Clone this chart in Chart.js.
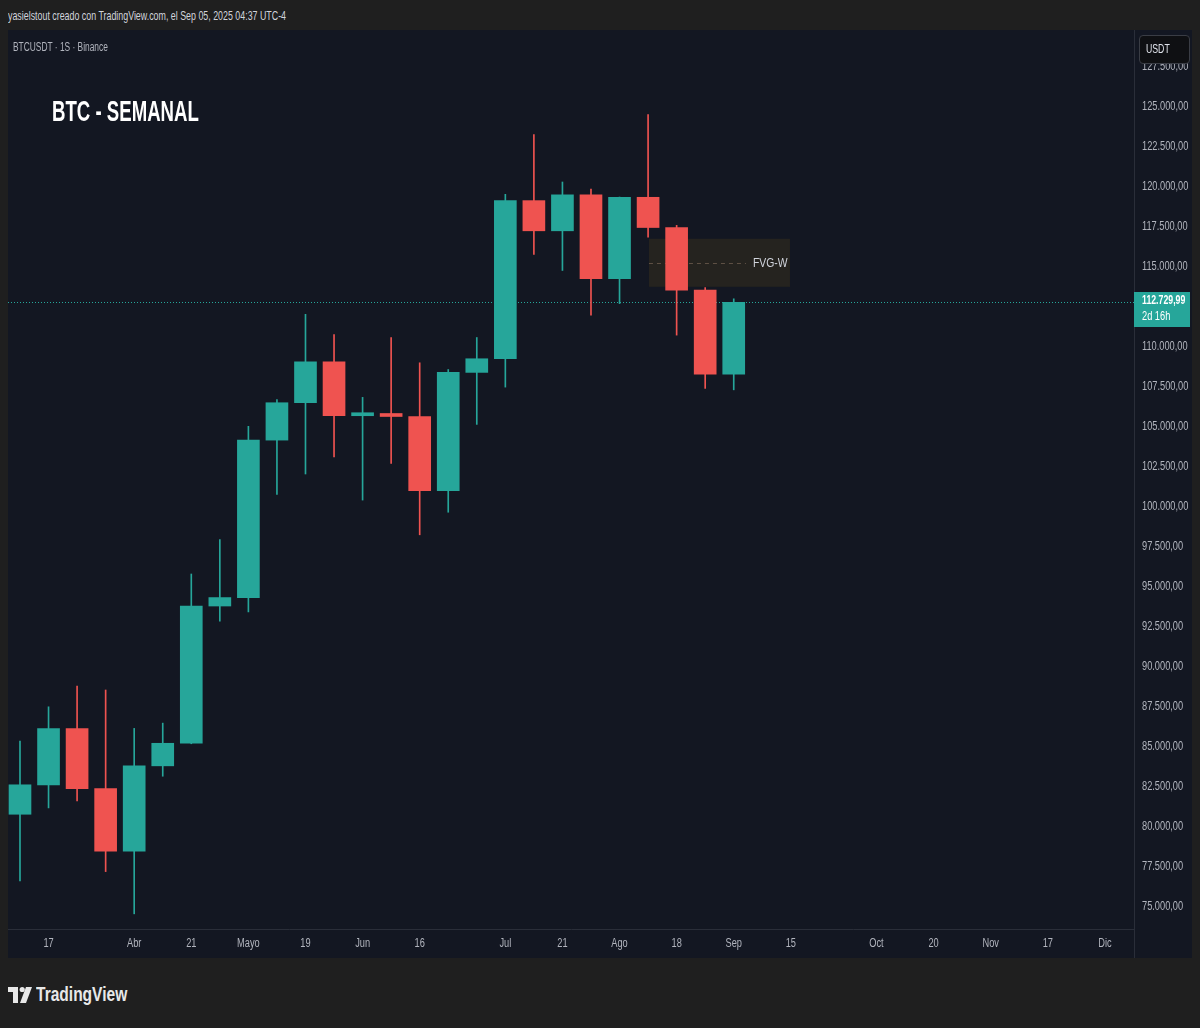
<!DOCTYPE html>
<html>
<head>
<meta charset="utf-8">
<script src="https://cdn.jsdelivr.net/npm/chart.js@4.4.1/dist/chart.umd.min.js"></script>
<style>
  html, body { margin:0; padding:0; }
  body { width:1200px; height:1028px; background:#1f1f1f; position:relative; overflow:hidden;
         font-family:'Liberation Sans Narrow','Liberation Sans',sans-serif; }
  #hdr { position:absolute; left:8px; top:8px; color:#d1d4dc; font-size:13px; white-space:nowrap; transform-origin:0 0; }
  #panel { position:absolute; left:8px; top:30px; width:1184px; height:928px; background:#131722; }
  #cv { position:absolute; left:0; top:0; }
  #sym { position:absolute; left:5px; top:10px; color:#b2b5be; font-size:12px; white-space:nowrap; transform-origin:0 0; }
  #title { position:absolute; left:44px; top:66px; color:#ffffff; font-size:29px; font-weight:bold; white-space:nowrap; transform-origin:0 0; line-height:30px; }
  #usdt { position:absolute; left:1131px; top:5px; width:49px; height:27px; background:#0f1013; border:1px solid #3a3d45; border-radius:4px;
          color:#e0e3eb; font-size:12px; line-height:27px; box-sizing:content-box; }
  #usdt span { position:absolute; left:6px; top:0; transform-origin:0 50%; }
  #logo { position:absolute; left:8px; top:984px; height:22px; }
  #logotxt { position:absolute; left:36px; top:982px; color:#e8e8e8; font-size:21px; font-weight:bold; white-space:nowrap; transform-origin:0 0; line-height:24px; }
</style>
</head>
<body>
<div id="hdr">yasielstout creado con TradingView.com, el Sep 05, 2025 04:37 UTC-4</div>
<div id="panel">
  <canvas id="cv" width="1184" height="928"></canvas>
  <div id="sym">BTCUSDT · 1S · Binance</div>
  <div id="title">BTC - SEMANAL</div>
  <div id="usdt"><span id="usdtTxt">USDT</span></div>
</div>
<svg id="logo" width="24" height="22" viewBox="0 0 24 22">
  <path d="M0 3 H10 V19 H5 V8 H0 Z" fill="#e8e8e8"/>
  <circle cx="14.2" cy="5.5" r="2.6" fill="#e8e8e8"/>
  <path d="M18 3 H24 L18 19 H12 Z" fill="#e8e8e8"/>
</svg>
<div id="logotxt">TradingView</div>
<script>
// ---- data (weekly BTCUSDT, Binance) ----
const weeks  = ['2025-03-10','2025-03-17','2025-03-24','2025-03-31','2025-04-07','2025-04-14','2025-04-21','2025-04-28',
                '2025-05-05','2025-05-12','2025-05-19','2025-05-26','2025-06-02','2025-06-09','2025-06-16','2025-06-23',
                '2025-06-30','2025-07-07','2025-07-14','2025-07-21','2025-07-28','2025-08-04','2025-08-11','2025-08-18',
                '2025-08-25','2025-09-01'];
const opens  = [80734, 82575, 86082, 82335, 78430, 83760, 85170, 93749, 94277, 104118, 106454, 109004, 105642,
                105734, 105594, 100963, 108350, 109203, 119086, 117200, 119448, 114208, 119294, 117405, 113491, 108246];
const highs  = [85300, 87450, 88750, 88500, 86100, 86430, 95750, 97900, 104980, 106650, 111980, 110720, 106790,
                110530, 108950, 108530, 110530, 119480, 123220, 120250, 119800, 119310, 124470, 117540, 113650, 112950];
const lows   = [76560, 81130, 81560, 77150, 74510, 83110, 85140, 92800, 93380, 100720, 102000, 103070, 100370,
                102660, 98200, 99610, 105100, 107430, 115730, 114720, 111920, 112650, 116800, 110680, 107350, 107260];
const closes = [82575, 86082, 82335, 78430, 83760, 85170, 93749, 94277, 104118, 106454, 109004, 105642, 105734,
                105594, 100963, 108350, 109203, 119086, 117200, 119448, 114208, 119294, 117405, 113491, 108246, 112730];
// time-axis ticks: bar index -> label
const xTickIndex = [1, 4, 6, 8, 10, 12, 14, 17, 19, 21, 23, 25, 27, 30, 32, 34, 36, 38];
const xTickText  = ['17','Abr','21','Mayo','19','Jun','16','Jul','21','Ago','18','Sep','15','Oct','20','Nov','17','Dic'];
// price-axis ticks
const yTickValues = [75000, 77500, 80000, 82500, 85000, 87500, 90000, 92500, 95000, 97500, 100000, 102500,
                     105000, 107500, 110000, 112500, 115000, 117500, 120000, 122500, 125000, 127500];
const xRange = [-0.42, 39.02];
const yRange = [73562.5, 129750];
// FVG-W zone (bar index range, price range)
const fvgBars = [22.03, 26.97];
const fvgPrice = [113700, 116700];
const fvgMid = 115200;
const fvgLabel = 'FVG-W';
const lastPriceText = '112.729,99';
const countdownText = '2d 16h';

const UP = '#26a69a', DOWN = '#ef5350';
const FONT = "'Liberation Sans Narrow','Liberation Sans',sans-serif";
const NARROW = 0.74;

function fmt(v) {
  const s = v.toFixed(2).split('.');
  return s[0].replace(/\B(?=(\d{3})+(?!\d))/g, '.') + ',' + s[1];
}

const isUp = closes.map((c, i) => c >= opens[i]);
const bodyData = weeks.map((w, i) => ({ x: i, y: [opens[i], closes[i]] }));
const wickData = weeks.map((w, i) => ({ x: i, y: [lows[i], highs[i]] }));

function narrowText(ctx, txt, x, y, sx) {
  ctx.save();
  ctx.translate(x, y);
  ctx.scale(sx, 1);
  ctx.fillText(txt, 0, 0);
  ctx.restore();
}

const overlay = {
  id: 'overlay',
  beforeDatasetsDraw(chart) {
    const { ctx, chartArea: a, scales: { x, y } } = chart;
    ctx.save();
    // FVG box
    const x0 = x.getPixelForValue(fvgBars[0]), x1 = x.getPixelForValue(fvgBars[1]);
    const y0 = y.getPixelForValue(fvgPrice[1]), y1 = y.getPixelForValue(fvgPrice[0]);
    ctx.fillStyle = '#25231f';
    ctx.fillRect(x0, y0, x1 - x0, y1 - y0);
    const ym = Math.round(y.getPixelForValue(fvgMid)) + 0.5;
    ctx.strokeStyle = '#5e5044';
    ctx.lineWidth = 1;
    ctx.setLineDash([4, 4]);
    ctx.beginPath(); ctx.moveTo(x0, ym); ctx.lineTo(x1 - 44, ym); ctx.stroke();
    ctx.setLineDash([]);
    ctx.fillStyle = '#d1d4dc';
    ctx.font = '13px ' + FONT;
    ctx.textAlign = 'left'; ctx.textBaseline = 'middle';
    narrowText(ctx, fvgLabel, x1 - 37, ym, 0.8);
    // last price dotted line
    const py = Math.round(y.getPixelForValue(closes[closes.length - 1])) + 0.5;
    ctx.strokeStyle = UP;
    ctx.setLineDash([1, 2]);
    ctx.beginPath(); ctx.moveTo(a.left, py); ctx.lineTo(a.right, py); ctx.stroke();
    ctx.restore();
  },
  afterDraw(chart) {
    const { ctx, chartArea: a, scales: { x, y } } = chart;
    ctx.save();
    // vertical separator through the time axis
    ctx.strokeStyle = '#2a2e39'; ctx.lineWidth = 1;
    ctx.beginPath(); ctx.moveTo(a.right + 0.5, a.bottom); ctx.lineTo(a.right + 0.5, chart.height); ctx.stroke();
    // price-axis tick labels (from the y scale's ticks)
    ctx.fillStyle = '#b2b5be';
    ctx.font = '12.5px ' + FONT;
    ctx.textAlign = 'left'; ctx.textBaseline = 'middle';
    y.ticks.forEach(t => {
      const py = y.getPixelForValue(t.value);
      if (py < a.top || py > a.bottom) return;
      narrowText(ctx, fmt(t.value), a.right + 8, py + 0.5, NARROW);
    });
    // time-axis tick labels (from the x scale's ticks)
    ctx.textAlign = 'center';
    x.ticks.forEach(t => {
      const k = xTickIndex.indexOf(t.value);
      if (k < 0) return;
      narrowText(ctx, xTickText[k], x.getPixelForValue(t.value), a.bottom + 15, NARROW);
    });
    // last price label
    const py = Math.round(y.getPixelForValue(closes[closes.length - 1]));
    ctx.fillStyle = UP;
    ctx.fillRect(a.right, py - 10, chart.width - a.right - 2, 35);
    ctx.fillStyle = '#ffffff';
    ctx.font = 'bold 12.5px ' + FONT;
    ctx.textAlign = 'left';
    narrowText(ctx, lastPriceText, a.right + 8, py - 1, 0.7);
    ctx.font = '12.5px ' + FONT;
    narrowText(ctx, countdownText, a.right + 8, py + 15, NARROW);
    ctx.restore();
  }
};

new Chart(document.getElementById('cv'), {
  type: 'bar',
  data: {
    datasets: [
      { label: 'wick', data: wickData, backgroundColor: isUp.map(u => u ? UP : DOWN),
        barThickness: 1, grouped: false, order: 2, borderWidth: 0 },
      { label: 'body', data: bodyData, backgroundColor: isUp.map(u => u ? UP : DOWN),
        barThickness: 22, grouped: false, order: 1, borderWidth: 0, minBarLength: 3 }
    ]
  },
  options: {
    responsive: false, animation: false, events: [],
    layout: { padding: 0 },
    plugins: { legend: { display: false }, tooltip: { enabled: false } },
    scales: {
      x: {
        type: 'linear', min: xRange[0], max: xRange[1], offset: false,
        grid: { display: false, drawTicks: false },
        border: { display: true, color: '#2a2e39' },
        afterBuildTicks(s) { s.ticks = xTickIndex.map(v => ({ value: v })); },
        afterFit(s) { s.height = 29; },
        ticks: { display: false, autoSkip: false, maxRotation: 0 }
      },
      y: {
        position: 'right', min: yRange[0], max: yRange[1],
        grid: { display: false, drawTicks: false },
        border: { display: true, color: '#2a2e39' },
        afterBuildTicks(s) { s.ticks = yTickValues.map(v => ({ value: v })); },
        afterFit(s) { s.width = 58; },
        ticks: { display: false }
      }
    }
  },
  plugins: [overlay]
});

function fitWidth(id, w) {
  const el = document.getElementById(id);
  el.style.transform = 'scaleX(' + (w / el.offsetWidth) + ')';
}
fitWidth('hdr', 278);
fitWidth('sym', 95);
fitWidth('title', 147);
fitWidth('logotxt', 91);
fitWidth('usdtTxt', 24);
</script>
</body>
</html>
